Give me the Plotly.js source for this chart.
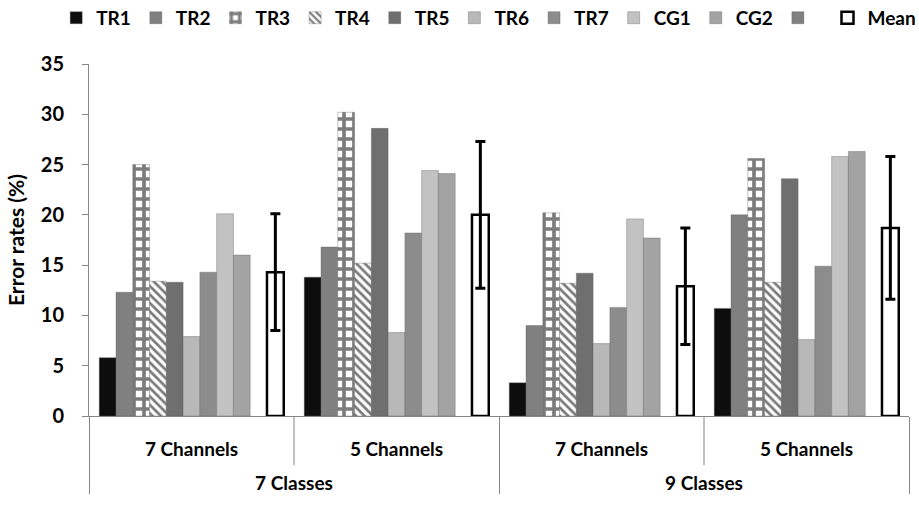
<!DOCTYPE html>
<html>
<head>
<meta charset="utf-8">
<script src="https://cdn.plot.ly/plotly-3.0.1.min.js"></script>
<style>
html,body{margin:0;padding:0;background:#fff;}
#chart{width:919px;height:505px;}
</style>
</head>
<body>
<div id="chart"></div>
<script>
// ---- data ----
var classes  = ["7 Classes", "7 Classes", "9 Classes", "9 Classes"];
var channels = ["7 Channels", "5 Channels", "7 Channels", "5 Channels"];
var seriesNames = ["TR1", "TR2", "TR3", "TR4", "TR5", "TR6", "TR7", "CG1", "CG2", " ", "Mean"];
var TR1  = [5.8, 13.8, 3.3, 10.7];
var TR2  = [12.3, 16.8, 9.0, 20.0];
var TR3  = [25.0, 30.2, 20.2, 25.6];
var TR4  = [13.4, 15.2, 13.2, 13.3];
var TR5  = [13.3, 28.6, 14.2, 23.6];
var TR6  = [7.9, 8.3, 7.2, 7.6];
var TR7  = [14.3, 18.2, 10.8, 14.9];
var CG1  = [20.1, 24.4, 19.6, 25.8];
var CG2  = [16.0, 24.1, 17.7, 26.3];
var BLANK = [null, null, null, null];
var MEAN = [14.3, 20.0, 12.9, 18.7];
var MEAN_ERR = [5.8, 7.3, 5.8, 7.1];

// ---- styles ----
var FONT = "Lato, 'Open Sans', sans-serif";
var values = [TR1, TR2, TR3, TR4, TR5, TR6, TR7, CG1, CG2, BLANK, MEAN];
var fills = ["#0d0d0d", "#808080", "#ffffff", "#ffffff", "#6f6f6f", "#b8b8b8", "#8c8c8c", "#c2c2c2", "#a3a3a3", "#808080", "#ffffff"];
var patterns = [null, null,
  {shape: "+", fgcolor: "#7c7c7c", bgcolor: "#ffffff", size: 10, solidity: 0.6, fillmode: "replace"},
  {shape: "\\", fgcolor: "#7a7a7a", bgcolor: "#ffffff", size: 6, solidity: 0.45, fillmode: "replace"},
  null, null, null, null, null, null, null];

// inner labels get an empty second line so the outer level sits lower, as in the reference
var innerLabels = channels.map(function (c) { return c + "<br> "; });

var traces = [];
for (var i = 0; i < seriesNames.length; i++) {
  var isMean = seriesNames[i] === "Mean";
  var marker = {
    color: fills[i],
    line: isMean ? {color: "#000000", width: 2.5} : {color: "rgba(90,90,90,0.6)", width: 0.6}
  };
  if (patterns[i]) marker.pattern = patterns[i];
  var t = {
    type: "bar",
    name: seriesNames[i],
    x: [classes, innerLabels],
    y: values[i],
    marker: marker,
    hoverinfo: "skip"
  };
  if (isMean) {
    t.error_y = {type: "data", array: MEAN_ERR, visible: true, color: "#000000", thickness: 3, width: 5};
  }
  traces.push(t);
}

var layout = {
  width: 919, height: 505,
  margin: {l: 89, r: 10, t: 64, b: 89, autoexpand: false},
  paper_bgcolor: "#ffffff", plot_bgcolor: "#ffffff",
  barmode: "group", bargap: 0.1, bargroupgap: 0,
  font: {family: FONT, size: 19, color: "#000000", weight: "bold"},
  showlegend: true,
  legend: {
    orientation: "h", x: -0.04, xanchor: "left",
    y: 1.185, yanchor: "top",
    font: {family: FONT, size: 19, color: "#000000", weight: "bold"},
    traceorder: "normal", bgcolor: "rgba(0,0,0,0)"
  },
  xaxis: {
    type: "multicategory",
    showline: true, linecolor: "#868686", linewidth: 1,
    showdividers: true, dividercolor: "#868686", dividerwidth: 1,
    ticks: "", showgrid: false, zeroline: false,
    ticklabelstandoff: 16,
    tickfont: {family: FONT, size: 19, color: "#000000", weight: "bold"}
  },
  yaxis: {
    range: [0, 35], dtick: 5, tick0: 0,
    showline: true, linecolor: "#868686", linewidth: 1,
    ticks: "outside", ticklen: 6, tickcolor: "#868686",
    ticklabelstandoff: 14,
    showgrid: false, zeroline: false,
    tickfont: {family: FONT, size: 20, color: "#000000", weight: "bold"},
    title: {text: "Error rates (%)", standoff: 10, font: {family: FONT, size: 21, color: "#000000", weight: "bold"}}
  },
  shapes: [
    {type: "line", xref: "paper", yref: "paper", x0: 0.25, x1: 0.25, y0: 0, y1: -0.14, line: {color: "#868686", width: 1}},
    {type: "line", xref: "paper", yref: "paper", x0: 0.75, x1: 0.75, y0: 0, y1: -0.14, line: {color: "#868686", width: 1}}
  ]
};

Plotly.newPlot("chart", traces, layout, {displayModeBar: false, staticPlot: true});
</script>
</body>
</html>
